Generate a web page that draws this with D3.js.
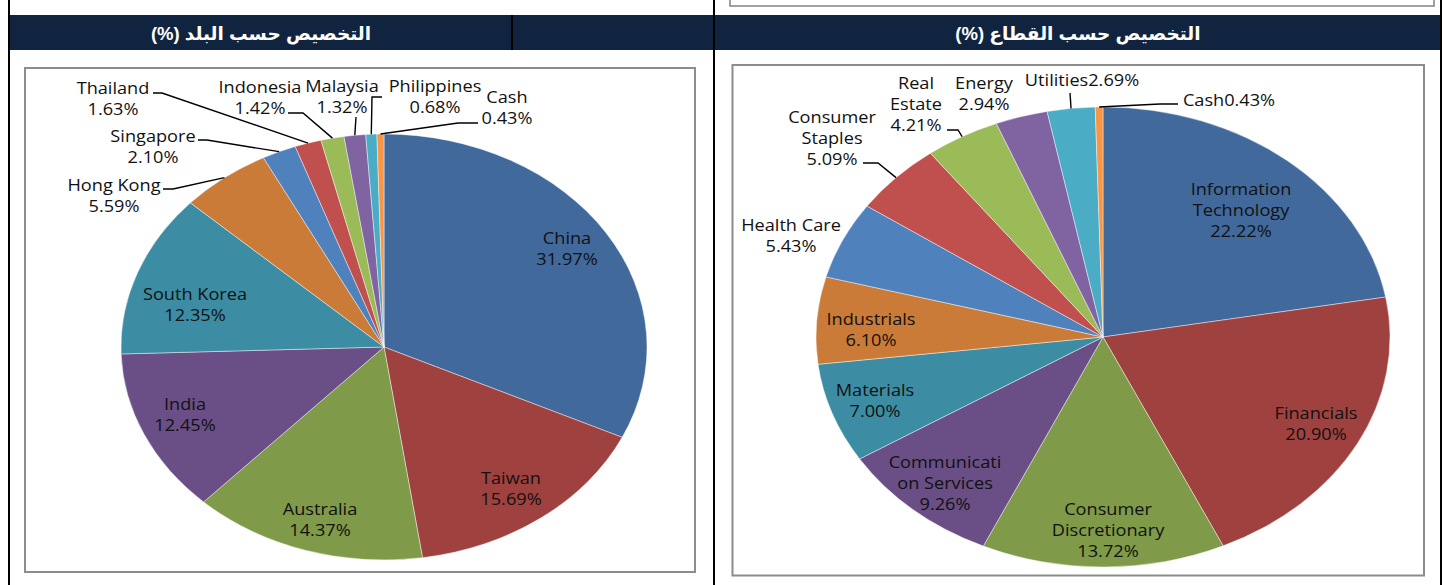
<!DOCTYPE html>
<html><head><meta charset="utf-8">
<script src="https://cdn.jsdelivr.net/npm/d3@7"></script>
<style>body{margin:0;background:#fff;overflow:hidden} svg{display:block}</style>
</head><body>
<svg id="c" width="1443" height="585"></svg>
<script>
// ---------- DATA ----------
const countryTitle = "التخصيص حسب البلد (%)";
const sectorTitle = "التخصيص حسب القطاع (%)";

const countryNames = ["China","Taiwan","Australia","India","South Korea","Hong Kong","Singapore","Thailand","Indonesia","Malaysia","Philippines","Cash"];
const countryValues = [31.97,15.69,14.37,12.45,12.35,5.59,2.10,1.63,1.42,1.32,0.68,0.43];

const sectorNames = ["Information Technology","Financials","Consumer Discretionary","Communication Services","Materials","Industrials","Health Care","Consumer Staples","Real Estate","Energy","Utilities","Cash"];
const sectorValues = [22.22,20.90,13.72,9.26,7.00,6.10,5.43,5.09,4.21,2.94,2.69,0.43];

// label text lines as shown in the chart (last line holds the value)
const countryLabelText = [["China"],["Taiwan"],["Australia"],["India"],["South Korea"],["Hong Kong"],["Singapore"],["Thailand"],["Indonesia"],["Malaysia"],["Philippines"],["Cash"]];
const sectorLabelText = [["Information","Technology"],["Financials"],["Consumer","Discretionary"],["Communicati","on Services"],["Materials"],["Industrials"],["Health Care"],["Consumer","Staples"],["Real","Estate"],["Energy"],["Utilities"],["Cash"]];
const sectorInlineValue = [false,false,false,false,false,false,false,false,false,false,true,true];

const sliceColors = ["#41699b","#9f413f","#7f9a49","#694f85","#3c8ca3","#cb7b38","#4f81bd","#c0504d","#9bbb59","#8064a2","#4bacc6","#f79646"];

// ---------- LAYOUT ----------
const W = 1443, H = 585;
const countryPie = {cx:384, cy:347, rx:263, ry:213};
const sectorPie  = {cx:1103, cy:337, rx:287, ry:230};
// label centres (absolute px)
const countryLabelPos = [[567,248.5],[511,488.5],[320,519.5],[185,414.5],[195,304.5],[114,195],[153,146.5],[113,98.5],[260,97.5],[342,96],[435,96],[507,107.5]];
const sectorLabelPos = [[1241,209.5],[1316,423.5],[1108,529.5],[945,482.5],[875,400],[871,329.5],[791,235],[832,137.5],[916,104],[984,93],[1082,80],[1229,100]];
// leader lines: label-side points (slice end computed from pie)
const countryLeaders = [null,null,null,null,null,[[163,189],[173,189]],[[198,140],[207,140]],[[153,93],[162,93]],[[288,113],[303,113]],[[356,117]],[[382,97],[372,97]],[[478,123],[458,123]]];
const sectorLeaders = [null,null,null,null,null,null,null,[[863,163],[878,163]],[[947,130],[958,130]],null,[[1070,93]],[[1178,104],[1160,104]]];

const svg = d3.select("#c");
const fmt = d3.format(".2f");

// frame lines
svg.append("rect").attr("x",730).attr("y",-10).attr("width",704).attr("height",16)
  .attr("fill","none").attr("stroke","#8a8a8a").attr("stroke-width",1.6);
svg.append("rect").attr("x",10).attr("y",15).attr("width",1430).attr("height",35).attr("fill","#11243f");
svg.append("rect").attr("x",511).attr("y",15).attr("width",2).attr("height",35).attr("fill","#000");
[[8,2],[713,2],[1440,2]].forEach(([x,w])=>svg.append("rect").attr("x",x).attr("y",0).attr("width",w).attr("height",H).attr("fill","#000"));

function title(txt, cx){
  svg.append("text").attr("x",cx).attr("y",33).attr("text-anchor","middle").attr("dominant-baseline","central")
    .attr("direction","rtl").style("direction","rtl")
    .attr("font-family","'Liberation Sans','DejaVu Sans',Arial,sans-serif").attr("font-weight","bold")
    .attr("font-size",18.5).attr("fill","#fff").text(txt);
}
title(countryTitle, 261);
title(sectorTitle, 1078);

// chart boxes
svg.append("rect").attr("x",25).attr("y",68).attr("width",670).attr("height",504)
  .attr("fill","#fff").attr("stroke","#8c8c8c").attr("stroke-width",2);
svg.append("rect").attr("x",732.5).attr("y",65).attr("width",691.5).attr("height",510.5)
  .attr("fill","#fff").attr("stroke","#8c8c8c").attr("stroke-width",2);

function drawPie(P, names, values, labelText, labelPos, leaders, inlineVal){
  const pie = d3.pie().sort(null).value(d=>d)(values);
  const arc = d3.arc().innerRadius(0).outerRadius(P.ry);
  const g = svg.append("g").attr("transform",`translate(${P.cx},${P.cy}) scale(${P.rx/P.ry},1)`);
  g.selectAll("path").data(pie).join("path")
    .attr("d",arc).attr("fill",(d,i)=>sliceColors[i])
    .attr("stroke","#ffffff").attr("stroke-opacity",0.55).attr("stroke-width",0.8)
    .attr("vector-effect","non-scaling-stroke");

  // leader lines
  pie.forEach((d,i)=>{
    if(!leaders[i]) return;
    const m = (d.startAngle+d.endAngle)/2;
    const end = [P.cx + P.rx*Math.sin(m), P.cy - P.ry*Math.cos(m)];
    const pts = leaders[i].concat([end]);
    svg.append("path").attr("d",d3.line()(pts)).attr("fill","none")
      .attr("stroke","#000").attr("stroke-width",1.4);
  });

  // labels
  const lh = 21, sx = 1.15;
  pie.forEach((d,i)=>{
    let lines = labelText[i].slice();
    const v = fmt(values[i])+"%";
    if(inlineVal && inlineVal[i]) lines[lines.length-1] += v; else lines.push(v);
    const [x,y] = labelPos[i];
    const t = svg.append("g").attr("transform",`translate(${x},${y}) scale(${sx},1)`)
      .append("text").attr("text-anchor","middle")
      .attr("font-family","'Open Sans',sans-serif").attr("font-size",15.8).attr("fill","#111");
    lines.forEach((ln,k)=>{
      t.append("tspan").attr("x",0).attr("y",(k-(lines.length-1)/2)*lh).attr("dominant-baseline","central").text(ln);
    });
  });
}
drawPie(countryPie, countryNames, countryValues, countryLabelText, countryLabelPos, countryLeaders, null);
drawPie(sectorPie, sectorNames, sectorValues, sectorLabelText, sectorLabelPos, sectorLeaders, sectorInlineValue);
</script>
</body></html>
